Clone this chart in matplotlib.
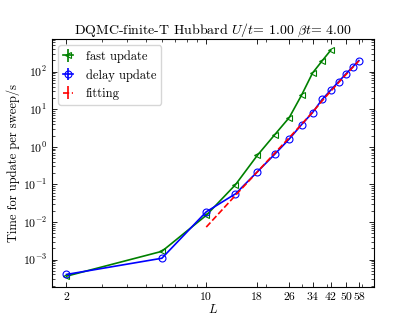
import numpy as np
import matplotlib
matplotlib.use('Agg')
from matplotlib import pyplot as plt
from matplotlib.ticker import NullFormatter, FixedLocator, FixedFormatter

plt.rcParams['font.family'] = 'serif'
plt.rcParams['font.serif'] = ['cmr10']
plt.rcParams['mathtext.fontset'] = 'cm'
plt.rcParams['axes.formatter.use_mathtext'] = True
plt.rcParams['axes.unicode_minus'] = False

# lattice sizes
L_fast = [2, 6, 10, 14, 18, 22, 26, 30, 34, 38, 42]
L_delay = [2, 6, 10, 14, 18, 22, 26, 30, 34, 38, 42, 46, 50, 54, 58]
L_fit = [10, 14, 18, 22, 26, 30, 34, 38, 42, 46, 50, 54, 58]

# time per sweep (s)
t_fast = [3.6e-4, 1.65e-3, 0.015, 0.098, 0.59, 2.1, 6.0, 24.0, 92.0, 195.0, 377.0]
t_delay = [4.0e-4, 1.08e-3, 0.0186, 0.056, 0.215, 0.635, 1.61, 3.93, 8.15,
           18.3, 32.6, 54.7, 88.0, 134.0, 198.0]
t_fit = [0.0073, 0.051, 0.215, 0.68, 1.75, 4.0, 8.3, 16.8, 30.5, 52.0, 84.0, 130.0, 195.0]

xticks = [2, 10, 18, 26, 34, 42, 50, 58]

fig = plt.figure(figsize=(4.15, 3.23), dpi=100)
ax = fig.add_subplot(111)

ax.errorbar(L_fast, t_fast, yerr=np.zeros(len(t_fast)), fmt='-<', color='green',
            mfc='none', ms=4.5, mew=0.8, lw=1.2, label='fast update')
ax.errorbar(L_delay, t_delay, yerr=np.zeros(len(t_delay)), fmt='-o', color='blue',
            mfc='none', ms=5, mew=0.8, lw=1.2, label='delay update')
ax.errorbar(L_fit, t_fit, yerr=np.zeros(len(t_fit)), fmt='--', color='red',
            lw=1.2, label='fitting')

ax.set_xscale('log')
ax.set_yscale('log')
ax.xaxis.set_major_locator(FixedLocator(xticks))
ax.xaxis.set_major_formatter(FixedFormatter([str(v) for v in xticks]))
ax.xaxis.set_minor_formatter(NullFormatter())

ax.tick_params(which='both', direction='in', top=True, right=True, labelsize=8.5)
ax.tick_params(which='major', length=3.5, width=0.6)
ax.tick_params(which='minor', length=2, width=0.5)
for s in ax.spines.values():
    s.set_linewidth(0.8)

ax.set_xlabel('$L$', fontsize=9, labelpad=1)
ax.set_ylabel('Time for update per sweep/s', fontsize=9, labelpad=2)
ax.set_title(r'DQMC-finite-T Hubbard $U/t$= 1.00 $\beta t$= 4.00', fontsize=10, pad=3)
ax.legend(loc='upper left', fontsize=9, handlelength=0.8, handletextpad=1.0)

fig.savefig('out.png', dpi=100)
